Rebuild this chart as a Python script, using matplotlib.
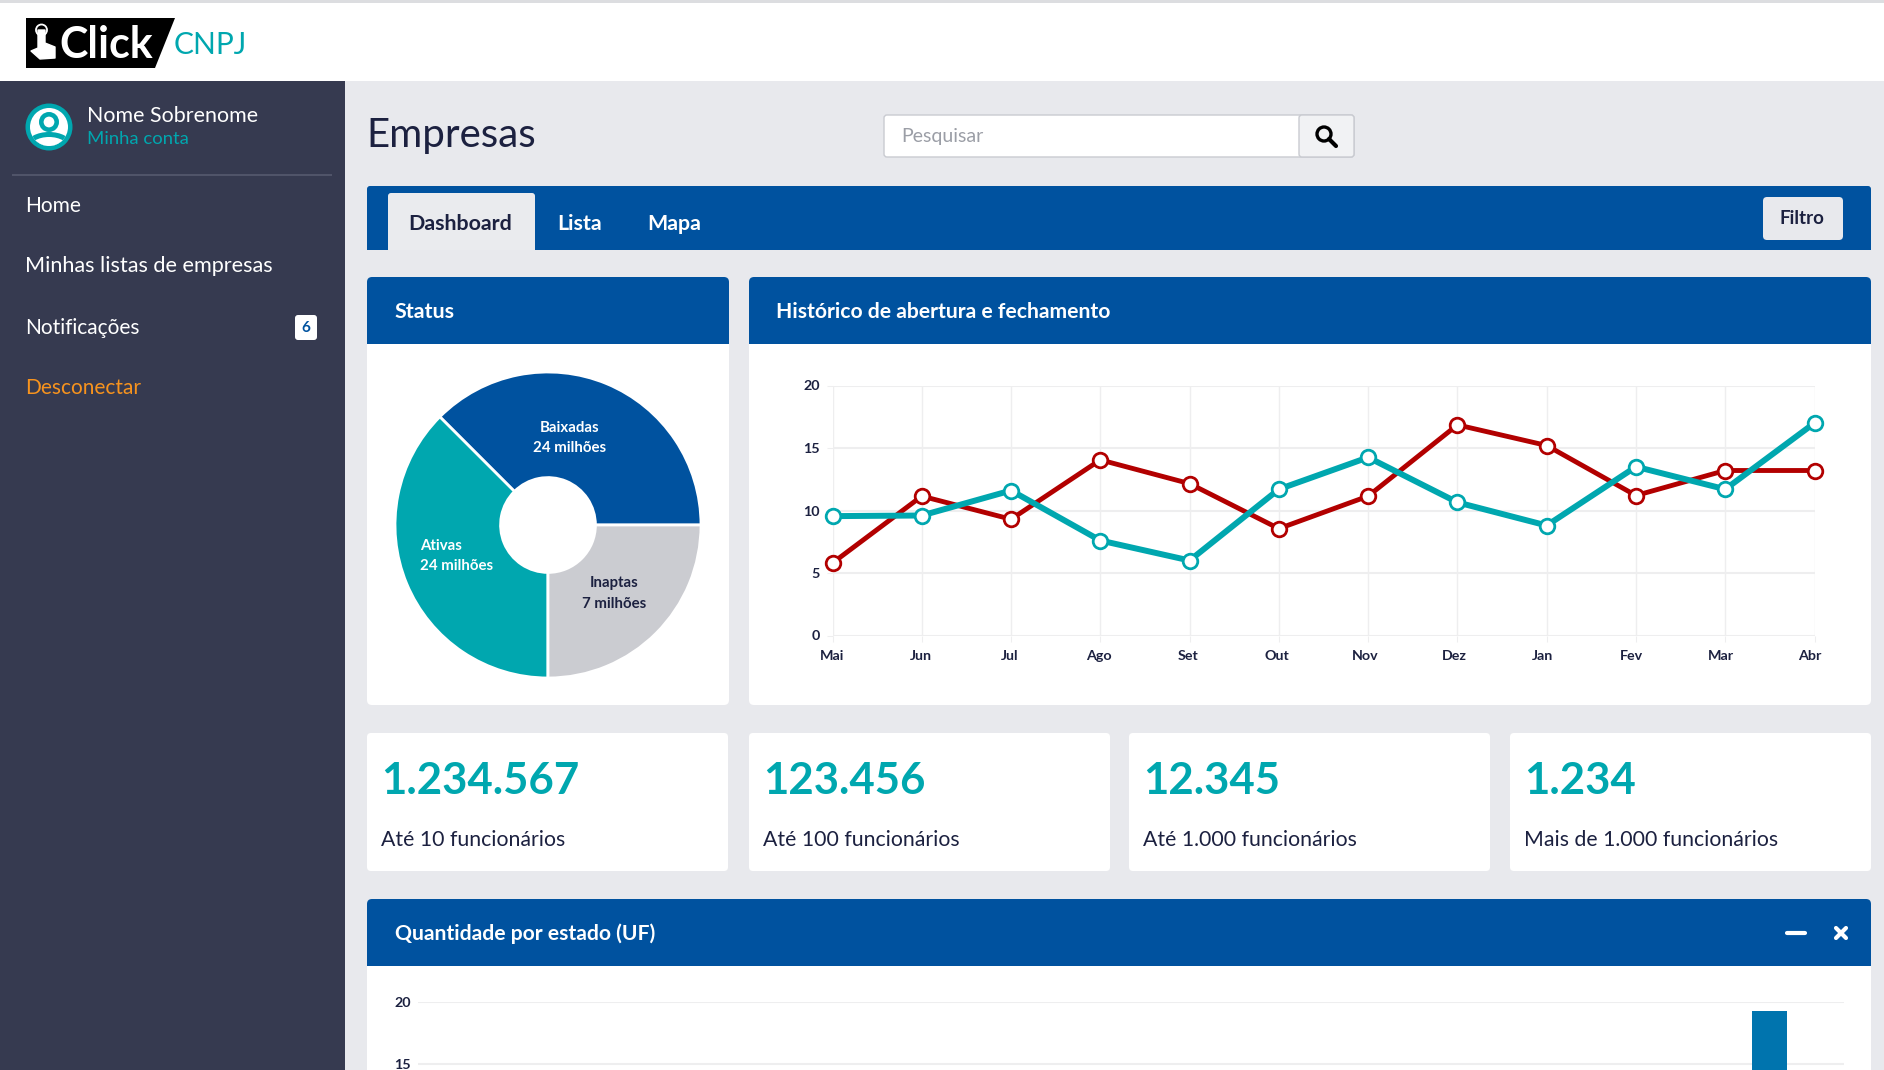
import matplotlib
matplotlib.use("Agg")
import matplotlib.pyplot as plt
from matplotlib.patches import Circle, Ellipse, FancyBboxPatch, Polygon, Rectangle

W, H = 1884, 1070

BLUE = "#00529f"
TEAL = "#00a7af"
RED = "#b20000"
GREY = "#cbccd1"
NAVY = "#363a50"
BG = "#e8e9ed"
INK = "#1c2140"
GRID = "#eeeeef"

months = ["Mai", "Jun", "Jul", "Ago", "Set", "Out", "Nov", "Dez", "Jan", "Fev", "Mar", "Abr"]
fechamento = [5.8, 11.15, 9.3, 14.05, 12.15, 8.55, 11.15, 16.85, 15.2, 11.2, 13.2, 13.2]
abertura = [9.55, 9.6, 11.6, 7.6, 6.0, 11.7, 14.25, 10.65, 8.8, 13.5, 11.7, 17.0]
month_ticks = [0, 5, 10, 15, 20]

status_labels = ["Baixadas", "Ativas", "Inaptas"]
status_amounts = ["24 milhões", "24 milhões", "7 milhões"]
status_shares = [37.5, 37.5, 25]
status_colors = [BLUE, TEAL, GREY]

card_numbers = ["1.234.567", "123.456", "12.345", "1.234"]
card_labels = ["Até 10 funcionários", "Até 100 funcionários", "Até 1.000 funcionários", "Mais de 1.000 funcionários"]

ufs = ["AC", "AL", "AM", "AP", "BA", "CE", "DF", "ES", "GO", "MA", "MG", "MS", "MT", "PA", "PB",
       "PE", "PI", "PR", "RJ", "RN", "RO", "RR", "RS", "SC", "SE", "SP", "TO"]
visible_ufs = ["SP"]
visible_uf_values = [19.3]

nav_items = ["Home", "Minhas listas de empresas", "Notificações"]

plt.rcParams["font.family"] = ["Lato", "DejaVu Sans"]

fig = plt.figure(figsize=(W / 100, H / 100), dpi=100, facecolor=BG)


def px_axes(x0, y0, x1, y1, zorder=1):
    ax = fig.add_axes([x0 / W, 1 - y1 / H, (x1 - x0) / W, (y1 - y0) / H], zorder=zorder)
    return ax


def overlay(zorder):
    ax = px_axes(0, 0, W, H, zorder=zorder)
    ax.set_xlim(0, W)
    ax.set_ylim(H, 0)
    ax.axis("off")
    ax.patch.set_alpha(0)
    return ax


ui = overlay(0)
top = overlay(5)


def rect(x0, y0, x1, y1, color, **kw):
    ui.add_patch(Rectangle((x0, y0), x1 - x0, y1 - y0, facecolor=color, edgecolor="none", **kw))


def rounded(ax, x0, y0, x1, y1, color, r=5, edge="none", lw=0):
    ax.add_patch(FancyBboxPatch((x0, y0), x1 - x0, y1 - y0, boxstyle=f"round,pad=0,rounding_size={r}",
                                facecolor=color, edgecolor=edge, linewidth=lw))


def panel(x0, y0, x1, y1, head_bottom=None):
    rounded(ui, x0, y0, x1, y1, "white")
    if head_bottom:
        rounded(ui, x0, y0, x1, head_bottom + 8, BLUE)
        rect(x0, head_bottom, x1, head_bottom + 9, "white")


def label(ax, x, y, s, size, color="white", weight="normal", ha="left"):
    ax.text(x, y + 1.5, s, fontsize=size, color=color, fontweight=weight, ha=ha, va="center")


# header and sidebar
rect(0, 0, W, 81, "white")
rect(0, 0, W, 3, "#dcdde0")
rect(0, 81, 345, H, NAVY)
ui.add_patch(Polygon([(26, 18), (175, 18), (155, 68), (26, 68)], facecolor="black", edgecolor="none"))
ui.add_patch(Polygon([(31, 51), (38, 48), (38, 30), (45, 30), (45, 43), (55, 47), (55, 58), (40, 59)],
                     facecolor="white", edgecolor="white", linewidth=1, joinstyle="round"))
ui.add_patch(Circle((41.5, 30), 5.5, facecolor="none", edgecolor="white", linewidth=1.3))
label(ui, 59, 43, "Click", 31, weight="bold")
label(ui, 174, 43, "CNPJ", 21.5, color=TEAL)

ui.add_patch(Circle((49, 127), 23.5, facecolor=TEAL))
avatar_inner = Circle((49, 127), 19, facecolor="white")
ui.add_patch(avatar_inner)
ui.add_patch(Circle((49, 122), 7.7, facecolor="none", edgecolor=TEAL, linewidth=3.3))
body = Ellipse((49, 144), 44, 24, facecolor=TEAL)
ui.add_patch(body)
body.set_clip_path(avatar_inner)
lens = Ellipse((49, 149), 40, 24, facecolor="white")
ui.add_patch(lens)
lens.set_clip_path(avatar_inner)
label(ui, 87, 115, "Nome Sobrenome", 15.4)
label(ui, 87, 138, "Minha conta", 13.3, color=TEAL)
rect(12, 174, 332, 175.5, "#505469")

for item, y, size in zip(nav_items, [204, 265, 326], [15, 15.6, 15]):
    label(ui, 25, y, item, size)
label(ui, 25, 387, "Desconectar", 15, color="#f7931e")
rounded(ui, 295, 315, 317, 340, "white", r=3)
label(ui, 306, 326, "6", 11, color=BLUE, weight="bold", ha="center")

# page title and search
label(ui, 366.5, 134, "Empresas", 29, color=INK)
rounded(ui, 884, 115, 1354, 157, "white", r=3, edge="#c9cbd1", lw=1)
rounded(ui, 1299, 115, 1354, 157, "#f1f2f4", r=3, edge="#c9cbd1", lw=1)
label(ui, 901, 135, "Pesquisar", 14, color="#9b9ea6")
ui.add_patch(Circle((1324, 134), 7, facecolor="none", edgecolor="black", linewidth=2.4))
ui.plot([1329, 1336], [139, 146], color="black", lw=3, solid_capstyle="round")

# tabs
rounded(ui, 367, 186, 1871, 256, BLUE, r=3)
rect(367, 250, 1871, 258, BG)
rounded(ui, 388, 193, 535, 256, "#eaebee", r=3)
rect(388, 250, 535, 258, BG)
label(ui, 460.5, 222, "Dashboard", 15.4, color=INK, weight="bold", ha="center")
label(ui, 580, 222, "Lista", 15.4, weight="bold", ha="center")
label(ui, 674, 222, "Mapa", 15.4, weight="bold", ha="center")
rounded(ui, 1763, 197, 1843, 240, BG, r=4)
label(ui, 1802, 217.5, "Filtro", 13.5, color=INK, weight="bold", ha="center")

# panels
panel(367, 277, 729, 705, 344)
label(ui, 394.5, 310, "Status", 15.4, weight="bold")
panel(749, 277, 1871, 705, 344)
label(ui, 776, 310, "Histórico de abertura e fechamento", 15.2, weight="bold")

# status pie
pie_ax = px_axes(395, 372, 701, 678)
pie_ax.pie(status_shares, colors=status_colors, startangle=0, radius=1, frame=False,
           wedgeprops={"width": 0.69, "edgecolor": "white", "linewidth": 2})
pie_ax.set_xlim(-1, 1)
pie_ax.set_ylim(-1, 1)
pie_ax.patch.set_alpha(0)

label(top, 570, 427, status_labels[0], 10.8, weight="bold", ha="center")
label(top, 570, 446, status_amounts[0], 10.8, weight="bold", ha="center")
label(top, 420, 545, status_labels[1], 10.8, weight="bold")
label(top, 420, 565, status_amounts[1], 10.8, weight="bold")
label(top, 614, 582, status_labels[2], 10.8, color=INK, weight="bold", ha="center")
label(top, 614, 602, status_amounts[2], 10.8, color=INK, weight="bold", ha="center")

# line chart
line_ax = px_axes(832.5, 385.5, 1814.5, 635.5)
x = list(range(len(months)))
line_ax.plot(x, fechamento, color=RED, lw=3.5, marker="o", ms=10.5, mfc="white", mec=RED, mew=2, clip_on=False, zorder=3)
line_ax.plot(x, abertura, color=TEAL, lw=4.3, marker="o", ms=10.5, mfc="white", mec=TEAL, mew=2, clip_on=False, zorder=4)
line_ax.set_xlim(0, 11)
line_ax.set_ylim(0, 20)
line_ax.set_xticks(x)
line_ax.set_xticklabels([])
line_ax.xaxis.remove_overlapping_locs = False
line_ax.set_xticks([i * 0.9948 for i in x], months, minor=True)
line_ax.set_yticks(month_ticks)
line_ax.grid(axis="x", color=GRID, lw=1)
line_ax.grid(axis="y", color=GRID, lw=1.5)
line_ax.set_axisbelow(True)
line_ax.tick_params(axis="both", which="major", length=4, color=GRID, pad=5, labelsize=10.3, labelcolor=INK)
line_ax.tick_params(axis="x", which="minor", length=0, pad=10.5, labelsize=10.3, labelcolor=INK)
for t in line_ax.get_xticklabels(minor=True) + line_ax.get_yticklabels():
    t.set_fontweight("bold")
for s in line_ax.spines.values():
    s.set_visible(False)

# number cards
card_x = [(367, 728), (749, 1110), (1129, 1490), (1510, 1871)]
for (x0, x1), num, txt in zip(card_x, card_numbers, card_labels):
    rounded(ui, x0, 733, x1, 871, "white", r=4)
    label(ui, x0 + 14, 779, num, 31.5, color=TEAL, weight="bold")
    label(ui, x0 + 14, 838, txt, 15.3, color=INK)

# UF bars, only the top of the panel is in the picture
rounded(ui, 367, 899, 1871, 1090, BLUE)
rect(367, 966, 1871, H, "white")
label(ui, 395, 932, "Quantidade por estado (UF)", 15.2, weight="bold")
ui.plot([1787, 1805], [933, 933], color="white", lw=3, solid_capstyle="round")
ui.plot([1836, 1846], [928, 938], color="white", lw=3, solid_capstyle="round")
ui.plot([1836, 1846], [938, 928], color="white", lw=3, solid_capstyle="round")

bar_ax = px_axes(418, 1002, 1844, H)
bar_ax.bar([ufs.index(u) for u in visible_ufs], visible_uf_values, width=0.66, color="#0074ae", zorder=3)
bar_ax.set_xlim(-0.5, 26.4)
bar_ax.set_ylim(20 - 68 / 12.4, 20)
bar_ax.set_yticks([15, 20])
bar_ax.set_xticks([])
bar_ax.grid(axis="y", color=GRID, lw=1.5)
bar_ax.set_axisbelow(True)
bar_ax.tick_params(axis="y", length=0, pad=5, labelsize=10.3, labelcolor=INK)
for t in bar_ax.get_yticklabels():
    t.set_fontweight("bold")
for s in bar_ax.spines.values():
    s.set_visible(False)

fig.savefig("out.png", dpi=100)
